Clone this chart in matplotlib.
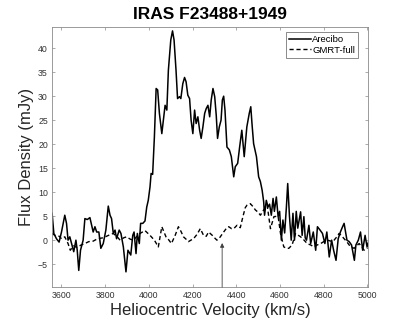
import numpy as np
import matplotlib
matplotlib.use("Agg")
import matplotlib.pyplot as plt

# Arecibo spectrum (velocity km/s, flux mJy)
arecibo_vel = [3557, 3565, 3577, 3589, 3600, 3615, 3623, 3630, 3638, 3650, 3656, 3666, 3672,
               3679, 3687, 3699, 3707, 3718, 3730, 3738, 3745, 3753, 3761, 3771, 3780, 3791,
               3803, 3814, 3822, 3829, 3837, 3845, 3852, 3864, 3872, 3883, 3895, 3904, 3917,
               3926, 3932, 3941, 3947, 3956, 3962, 3972, 3982, 3990, 3997, 4005, 4010, 4017,
               4025, 4033, 4040, 4048, 4059, 4066, 4074, 4082, 4089, 4100, 4108, 4115, 4124,
               4131, 4140, 4146, 4155, 4163, 4170, 4178, 4186, 4193, 4201, 4209, 4216, 4224,
               4232, 4239, 4247, 4255, 4262, 4270, 4278, 4285, 4293, 4301, 4308, 4314, 4322,
               4330, 4336, 4342, 4348, 4357, 4368, 4377, 4388, 4395, 4406, 4415, 4425, 4436,
               4448, 4459, 4466, 4472, 4479, 4492, 4502, 4510, 4518, 4525, 4529, 4537, 4545,
               4552, 4560, 4568, 4574, 4583, 4591, 4598, 4606, 4613, 4621, 4629, 4635, 4643,
               4651, 4659, 4666, 4674, 4681, 4694, 4701, 4709, 4715, 4721, 4732, 4740, 4752,
               4763, 4771, 4783, 4794, 4805, 4814, 4825, 4836, 4845, 4856, 4866, 4876, 4886,
               4893, 4906, 4916, 4927, 4940, 4947, 4958, 4968, 4978, 4989, 4998, 5005]
arecibo_flux = [5.6, 1.4, 0.3, -0.4, 1.7, 5.2, 3.5, 0.0, 0.7, -1.4, -2.4, 0.0, -2.1,
                -6.3, -2.1, 0.0, 4.5, 4.3, 4.7, 3.1, 1.7, 2.8, 1.7, 1.7, -1.7, -0.7,
                2.1, 7.1, 5.2, 4.5, 1.4, 2.1, 0.3, 2.1, 1.4, -1.4, -6.6, -2.1, -3.1,
                1.0, 1.7, -2.8, 1.4, -0.7, 3.5, 3.5, 4.0, 6.9, 8.3, 11.1, 13.9, 13.7,
                21.5, 31.6, 31.3, 26.4, 22.2, 25.0, 28.1, 27.1, 35.4, 41.7, 43.6, 41.7, 35.4,
                29.5, 29.9, 29.5, 32.6, 33.9, 33.0, 30.2, 29.5, 25.0, 22.2, 27.1, 24.3, 25.7,
                22.9, 21.2, 23.6, 26.4, 27.4, 28.1, 25.7, 29.2, 31.6, 29.9, 26.0, 21.2, 23.6,
                25.0, 29.2, 30.0, 27.1, 19.4, 18.8, 17.4, 13.2, 15.3, 16.0, 19.4, 22.9, 17.4,
                23.6, 26.4, 27.8, 24.0, 20.1, 17.4, 13.2, 12.2, 10.4, 8.0, 5.2, 8.3, 6.9,
                7.5, 5.2, 8.7, 6.0, 9.0, 4.9, 6.0, 0.0, 4.2, 1.5, 6.9, 11.8, 5.0,
                0.0, 5.6, 0.0, 6.0, 2.5, 5.9, 1.0, 4.9, 0.5, 0.0, 3.1, -0.7, 1.7,
                -2.1, 2.8, 2.1, 1.4, -0.7, 1.7, -3.5, 0.0, -2.1, -4.2, 0.3, 1.7, 2.8,
                3.5, 0.0, -0.3, -1.0, -4.2, -1.0, 0.0, 1.7, -2.1, 1.0, -1.4, -0.3]

# GMRT-full spectrum
gmrt_vel = [3557, 3570, 3590, 3600, 3615, 3630, 3640, 3655, 3670, 3690, 3707, 3725, 3745,
            3765, 3791, 3815, 3837, 3855, 3868, 3885, 3898, 3915, 3929, 3945, 3959, 3982,
            4005, 4025, 4043, 4059, 4078, 4090, 4103, 4120, 4135, 4147, 4158, 4170, 4181,
            4192, 4204, 4220, 4235, 4250, 4262, 4273, 4290, 4300, 4311, 4325, 4342, 4355,
            4365, 4378, 4388, 4403, 4418, 4430, 4441, 4449, 4464, 4476, 4487, 4500, 4510,
            4525, 4541, 4556, 4572, 4591, 4602, 4617, 4630, 4640, 4655, 4671, 4694, 4710,
            4724, 4740, 4755, 4770, 4786, 4800, 4817, 4832, 4847, 4860, 4870, 4880, 4893,
            4905, 4916, 4930, 4939, 4950, 4962, 4975, 4985, 5000]
gmrt_flux = [1.4, 1.0, 0.8, 0.3, 0.7, -0.7, -2.1, -1.2, -1.5, -1.0, -0.7, -0.3, -0.2,
             0.3, 0.5, 1.0, 1.4, 0.7, 0.0, 0.5, 0.7, 0.2, 0.0, 0.8, 1.4, 2.0,
             1.0, 0.0, -1.4, 2.8, 0.7, 0.1, -0.7, 1.0, 2.8, 1.8, 0.7, 0.2, -0.3,
             0.0, 0.3, 1.2, 2.4, 1.0, 0.8, 1.7, 1.0, 0.5, 0.0, 0.6, 1.7, 2.5,
             2.8, 2.4, 2.4, 3.1, 2.6, 4.9, 6.8, 7.3, 7.6, 7.0, 6.3, 5.8, 5.2,
             6.3, 7.3, 2.4, 4.9, 5.0, 1.4, -1.4, -1.7, -1.7, -1.0, 1.4, 0.7, 0.0,
             -0.7, -1.0, -1.4, -1.0, -0.7, -0.3, 0.0, -0.2, 0.0, 0.7, 1.4, 1.0, 0.3,
             -0.3, -1.0, -1.5, -1.7, -1.2, -0.7, -1.5, -2.1, -1.6]

arrow_vel = 4335

plt.rcParams['font.family'] = ['Liberation Sans', 'DejaVu Sans']

fig = plt.figure(figsize=(4.07, 3.26), dpi=100)
ax = fig.add_axes([0.128, 0.119, 0.776, 0.798])

ax.plot(arecibo_vel, arecibo_flux, 'k-', lw=1.1, label='Arecibo')
ax.plot(gmrt_vel, gmrt_flux, 'k--', lw=1.0, dashes=(3, 2), label='GMRT-full')

ax.annotate('', xy=(arrow_vel, -0.6), xytext=(arrow_vel, -9.8),
            arrowprops=dict(arrowstyle='-|>', color='#404040', lw=0.6,
                            mutation_scale=6, shrinkA=0, shrinkB=0))

ax.set_xlim(3557, 5002)
ax.set_ylim(-9.8, 44.4)
ax.set_xticks(np.arange(3600, 5001, 200))
ax.set_yticks(np.arange(-5, 41, 5))

axcol = '#8a8a8a'
for s in ax.spines.values():
    s.set_color(axcol)
    s.set_linewidth(0.6)
ax.tick_params(direction='in', top=True, right=True, length=2.5, width=0.5,
               color=axcol, labelsize=6.3, labelcolor='#333333', pad=3)

ax.set_xlabel('Heliocentric Velocity (km/s)', fontsize=12, color='#262626', labelpad=2)
ax.set_ylabel('Flux Density (mJy)', fontsize=12, color='#262626', labelpad=3)
ax.set_title('IRAS F23488+1949', fontsize=12.5, fontweight='bold', pad=6)

leg = ax.legend(loc='upper right', bbox_to_anchor=(0.968, 0.981), fontsize=6.8,
                frameon=True, fancybox=False, handlelength=2.4, handletextpad=0.1,
                borderpad=0.3, labelspacing=0.2, borderaxespad=0)
leg.get_frame().set_edgecolor('#555555')
leg.get_frame().set_linewidth(0.6)

fig.savefig('out.png', dpi=100)
